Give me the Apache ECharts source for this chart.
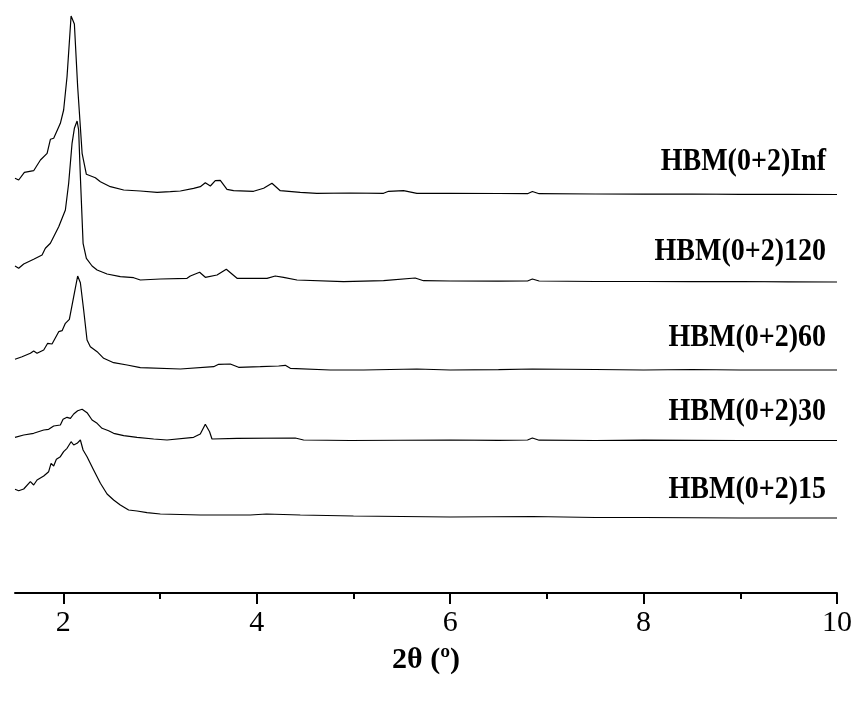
<!DOCTYPE html>
<html>
<head>
<meta charset="utf-8">
<script src="https://cdn.jsdelivr.net/npm/echarts@6/dist/echarts.min.js"></script>
<style>
  html, body { margin: 0; padding: 0; background: #fff; }
  #chart { width: 857px; height: 701px; }
</style>
</head>
<body>
<div id="chart"></div>
<script>
// sample names, top to bottom
var sampleNames = ['HBM(0+2)Inf', 'HBM(0+2)120', 'HBM(0+2)60', 'HBM(0+2)30', 'HBM(0+2)15'];
// vertical stacking offset of each pattern (a.u.)
var offsets = [398.5, 311, 223, 152.5, 75];

// 2theta positions and intensities (a.u.)
var xInf = [1.5, 1.538, 1.597, 1.693, 1.763, 1.832, 1.866, 1.9, 1.969, 2.003, 2.038, 2.08, 2.114, 2.148, 2.194, 2.238, 2.331, 2.383, 2.486, 2.624, 2.796, 2.969, 3.106, 3.21, 3.347, 3.416, 3.468, 3.52, 3.571, 3.623, 3.692, 3.76, 3.967, 4.071, 4.157, 4.243, 4.45, 4.622, 4.967, 5.311, 5.363, 5.518, 5.656, 6.0, 6.5, 6.8, 6.85, 6.92, 7.5, 8.0, 8.5, 9.0, 9.5, 10.0];
var yInf = [16.2, 14.5, 22.2, 23.8, 34.5, 41.2, 55.2, 56.2, 71.2, 84.5, 117.8, 178.5, 170.5, 107.8, 41.2, 20.2, 16.8, 12.8, 7.8, 4.5, 3.5, 2.2, 2.8, 3.5, 6.2, 7.8, 11.8, 8.5, 13.8, 14.2, 5.2, 3.8, 3.2, 6.2, 11.2, 3.8, 2.2, 1.2, 1.5, 1.2, 3.2, 3.8, 1.2, 1.2, 1.0, 0.8, 3.0, 0.8, 0.5, 0.3, 0.5, 0.2, 0.2, 0];

var x120 = [1.5, 1.538, 1.59, 1.693, 1.78, 1.814, 1.866, 1.952, 2.021, 2.055, 2.09, 2.114, 2.142, 2.158, 2.176, 2.204, 2.238, 2.297, 2.349, 2.452, 2.589, 2.727, 2.796, 3.003, 3.279, 3.313, 3.409, 3.468, 3.589, 3.685, 3.796, 4.106, 4.191, 4.277, 4.416, 4.897, 5.311, 5.638, 5.724, 6.0, 6.5, 6.8, 6.85, 6.92, 7.5, 8.0, 8.5, 9.0, 9.5, 10.0];
var y120 = [16, 13.7, 18, 22.7, 27, 33.7, 38.7, 55.3, 72, 98.7, 138.7, 153.7, 161, 152, 105.3, 38.7, 23.7, 16, 12, 8, 5.3, 4.3, 2, 3, 3.7, 6, 9.7, 4.7, 7, 12.7, 3.7, 3.7, 6, 4.7, 2, 0.3, 1.3, 4, 1.3, 1, 0.8, 1, 3, 1, 0.5, 0.5, 0.3, 0.5, 0.2, 0];

var x60 = [1.5, 1.573, 1.659, 1.693, 1.728, 1.797, 1.838, 1.883, 1.952, 1.987, 2.021, 2.062, 2.107, 2.148, 2.176, 2.21, 2.245, 2.279, 2.349, 2.417, 2.52, 2.659, 2.796, 3.21, 3.554, 3.606, 3.726, 3.812, 4.036, 4.226, 4.295, 4.347, 4.76, 5.104, 5.656, 6.0, 6.5, 6.85, 7.5, 8.0, 8.5, 9.0, 10.0];
var y60 = [10.7, 13.3, 16.7, 19, 16.7, 20, 26.7, 26, 38.3, 39.3, 46.7, 50.7, 73.3, 94, 87.3, 60, 30, 23.3, 18.3, 11.7, 7.3, 5, 2.3, 1, 3.3, 5.7, 6, 2.7, 3.3, 4, 4.7, 1.7, 0, 0, 1, 0, 0.3, 1, 0.5, 0, 0.5, 0, 0];

var x30 = [1.5, 1.59, 1.693, 1.797, 1.848, 1.9, 1.969, 1.997, 2.038, 2.073, 2.107, 2.148, 2.194, 2.245, 2.297, 2.349, 2.4, 2.468, 2.52, 2.624, 2.762, 2.934, 3.072, 3.347, 3.416, 3.468, 3.512, 3.537, 3.796, 4.398, 4.484, 4.967, 6.0, 6.5, 6.8, 6.85, 6.92, 7.5, 8.0, 9.0, 10.0];
var y30 = [3.2, 5.5, 7.2, 10.5, 11.2, 14.5, 15.5, 21.2, 23.2, 22.2, 26.5, 29.8, 31.2, 27.8, 20.5, 17.2, 12.2, 9.8, 7.2, 4.8, 3.2, 1.5, 0.5, 3.2, 6.5, 16.2, 8.8, 1.5, 2.2, 2.5, 0.5, 0, 0.5, 0.2, 0.5, 2.5, 0.3, 0, 0.3, 0, 0];

var x15 = [1.5, 1.538, 1.59, 1.659, 1.693, 1.728, 1.797, 1.848, 1.873, 1.9, 1.928, 1.969, 2.003, 2.038, 2.08, 2.107, 2.142, 2.176, 2.204, 2.245, 2.313, 2.383, 2.452, 2.52, 2.589, 2.675, 2.762, 2.865, 3.003, 3.416, 3.933, 4.1, 4.45, 5.0, 5.5, 6.0, 6.85, 7.5, 8.0, 9.0, 10.0];
var y15 = [28.7, 27.3, 29, 36.3, 33, 38, 42, 46.3, 54.7, 52, 58.7, 61.3, 66.3, 69.7, 76.3, 73, 74.7, 78, 68, 61.3, 48, 34.7, 24, 18, 13, 8, 7, 5.3, 4, 3, 3, 4, 3, 2, 1.5, 1, 1.5, 0.5, 0.5, 0, 0];

var xList = [xInf, x120, x60, x30, x15];
var yList = [yInf, y120, y60, y30, y15];

// axis ticks
var tickLabels = [2, 4, 6, 8, 10];
var minorTicks = [3, 5, 7, 9];

var serif = '"Liberation Serif", "Times New Roman", serif';

var myChart = echarts.init(document.getElementById('chart'));

var series = sampleNames.map(function (name, i) {
	var pts = xList[i].map(function (x, k) {
		return [x, yList[i][k] + offsets[i]];
	});
	return {
		name : name,
		type : 'line',
		data : pts,
		showSymbol : false,
		symbol : 'none',
		silent : true,
		lineStyle : {
			color : '#000',
			width : 1.2
		}
	};
});

// label anchor (right edge, vertical middle) in pixels
var labelY = [162, 252, 338, 412, 490];

option = {
	animation : false,
	backgroundColor : '#fff',
	grid : {
		left : 15,
		right : 20,
		top : 0,
		bottom : 108
	},
	xAxis : [ {
		type : 'value',
		min : 1.5,
		max : 10,
		position : 'bottom',
		splitLine : { show : false },
		axisLine : { lineStyle : { color : '#000', width : 2 } },
		axisTick : {
			customValues : tickLabels,
			length : 11,
			lineStyle : { color : '#000', width : 2 }
		},
		axisLabel : {
			customValues : tickLabels,
			margin : 15,
			color : '#000',
			fontFamily : serif,
			fontSize : 30
		},
		name : '2θ (º)',
		nameLocation : 'middle',
		nameGap : 52,
		nameTextStyle : {
			color : '#000',
			fontFamily : serif,
			fontWeight : 'bold',
			fontSize : 30
		}
	}, {
		type : 'value',
		min : 1.5,
		max : 10,
		position : 'bottom',
		splitLine : { show : false },
		axisLine : { show : false },
		axisTick : {
			customValues : minorTicks,
			length : 6,
			lineStyle : { color : '#000', width : 2 }
		},
		axisLabel : { show : false }
	} ],
	yAxis : {
		type : 'value',
		min : 0,
		max : 593,
		show : false
	},
	graphic : sampleNames.map(function (name, i) {
		return {
			type : 'text',
			x : 826,
			y : labelY[i],
			scaleY : 1.15,
			style : {
				text : name,
				x : 0,
				y : 0,
				align : 'right',
				verticalAlign : 'middle',
				fill : '#000',
				font : 'bold 28px ' + serif
			}
		};
	}),
	series : series
};

myChart.setOption(option);
</script>
</body>
</html>
